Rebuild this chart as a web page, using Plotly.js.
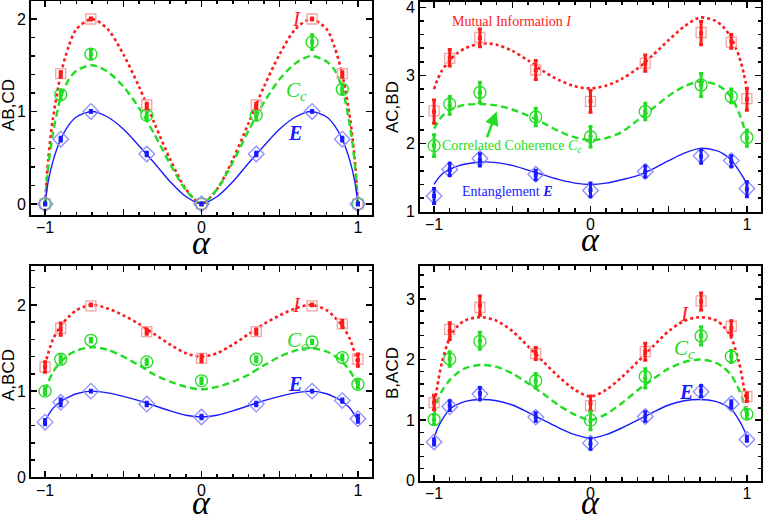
<!DOCTYPE html>
<html>
<head>
<meta charset="utf-8">
<script src="https://cdn.plot.ly/plotly-3.0.1.min.js"></script>
<style>
  html, body { margin: 0; padding: 0; background: #fff; }
</style>
</head>
<body>
<div id="chart" style="width:763px;height:522px"></div>
<script>
// measured alpha values and the grid the theory curves were read on
const alphaPts = [-1, -0.9, -0.707, -0.35, 0, 0.35, 0.707, 0.9, 1];
const curveX = [-1, -0.98, -0.95, -0.9, -0.85, -0.8, -0.7, -0.6, -0.5, -0.4, -0.3, -0.2, -0.1, 0,
  0.1, 0.2, 0.3, 0.4, 0.5, 0.6, 0.7, 0.8, 0.85, 0.9, 0.95, 0.98, 1];

// AB,CD
const abSimI = [0, 1.41, 2.0, 1.07, 0, 1.07, 2.0, 1.41, 0];
const abExpI = [0, 1.40, 2.0, 1.06, 0, 1.06, 2.0, 1.40, 0];
const abErrI = [0.01, 0.03, 0.01, 0.03, 0.01, 0.03, 0.01, 0.03, 0.01];
const abSimC = [0, 1.18, 1.62, 0.96, 0, 0.96, 1.75, 1.24, 0];
const abExpC = [0, 1.18, 1.62, 0.95, 0, 0.95, 1.75, 1.24, 0];
const abErrC = [0.01, 0.05, 0.05, 0.04, 0.01, 0.04, 0.08, 0.05, 0.01];
const abSimE = [0, 0.70, 1.0, 0.54, 0, 0.54, 1.0, 0.70, 0];
const abExpE = [0, 0.70, 1.0, 0.54, 0, 0.54, 1.0, 0.70, 0];
const abErrE = [0.01, 0.02, 0.01, 0.02, 0.01, 0.02, 0.01, 0.02, 0.01];
const abCurveI = [0, 0.48, 0.92, 1.40, 1.70, 1.89, 2.0, 1.89, 1.62, 1.27, 0.87, 0.48, 0.16, 0,
  0.16, 0.48, 0.87, 1.27, 1.62, 1.89, 2.0, 1.89, 1.70, 1.40, 0.92, 0.48, 0];
const abCurveC = [0, 0.40, 0.76, 1.15, 1.34, 1.44, 1.50, 1.43, 1.27, 1.04, 0.75, 0.43, 0.15, 0,
  0.16, 0.45, 0.79, 1.10, 1.35, 1.52, 1.60, 1.54, 1.45, 1.25, 0.83, 0.44, 0];
const abCurveE = [0, 0.24, 0.46, 0.70, 0.85, 0.94, 1.0, 0.94, 0.81, 0.63, 0.44, 0.24, 0.08, 0,
  0.08, 0.24, 0.44, 0.63, 0.81, 0.94, 1.0, 0.94, 0.85, 0.70, 0.46, 0.24, 0];

// AC,BD
const acSimI = [2.48, 3.25, 3.56, 3.08, 2.62, 3.18, 3.63, 3.49, 2.66];
const acExpI = [2.47, 3.26, 3.55, 3.08, 2.62, 3.18, 3.62, 3.50, 2.65];
const acErrI = [0.17, 0.12, 0.13, 0.14, 0.16, 0.12, 0.17, 0.10, 0.16];
const acSimC = [1.97, 2.58, 2.75, 2.39, 2.10, 2.47, 2.86, 2.69, 2.09];
const acExpC = [1.97, 2.56, 2.75, 2.39, 2.10, 2.47, 2.86, 2.70, 2.08];
const acErrC = [0.16, 0.13, 0.15, 0.13, 0.15, 0.12, 0.17, 0.10, 0.12];
const acSimE = [1.23, 1.62, 1.78, 1.55, 1.31, 1.59, 1.82, 1.75, 1.34];
const acExpE = [1.23, 1.62, 1.76, 1.54, 1.32, 1.59, 1.81, 1.74, 1.33];
const acErrE = [0.11, 0.09, 0.09, 0.07, 0.10, 0.08, 0.10, 0.08, 0.11];
const acCurveI = [2.80, 2.93, 3.07, 3.22, 3.33, 3.40, 3.47, 3.45, 3.36, 3.22, 3.06, 2.93, 2.84, 2.81,
  2.85, 2.95, 3.10, 3.30, 3.52, 3.72, 3.85, 3.80, 3.71, 3.55, 3.28, 3.03, 2.80];
const acCurveC = [2.22, 2.30, 2.40, 2.49, 2.54, 2.57, 2.58, 2.56, 2.50, 2.41, 2.30, 2.18, 2.09, 2.05,
  2.08, 2.17, 2.34, 2.52, 2.70, 2.84, 2.91, 2.87, 2.80, 2.68, 2.45, 2.25, 2.12];
const acCurveE = [1.40, 1.47, 1.55, 1.62, 1.67, 1.70, 1.73, 1.72, 1.68, 1.61, 1.54, 1.47, 1.42, 1.40,
  1.42, 1.47, 1.53, 1.63, 1.75, 1.86, 1.93, 1.90, 1.85, 1.76, 1.60, 1.49, 1.40];

// A,BCD
const aSimI = [1.28, 1.73, 1.99, 1.69, 1.38, 1.69, 1.99, 1.78, 1.37];
const aExpI = [1.28, 1.72, 2.0, 1.69, 1.38, 1.69, 2.0, 1.78, 1.36];
const aErrI = [0.06, 0.07, 0.01, 0.03, 0.04, 0.03, 0.01, 0.04, 0.07];
const aSimC = [1.0, 1.37, 1.59, 1.34, 1.12, 1.37, 1.57, 1.39, 1.08];
const aExpC = [1.0, 1.37, 1.59, 1.34, 1.12, 1.37, 1.57, 1.39, 1.08];
const aErrC = [0.04, 0.04, 0.02, 0.03, 0.03, 0.03, 0.02, 0.03, 0.04];
const aSimE = [0.64, 0.87, 1.0, 0.85, 0.70, 0.85, 1.0, 0.89, 0.68];
const aExpE = [0.64, 0.87, 1.0, 0.85, 0.70, 0.85, 1.0, 0.89, 0.68];
const aErrE = [0.03, 0.04, 0.01, 0.02, 0.02, 0.02, 0.01, 0.02, 0.04];
const aCurveI = [1.30, 1.44, 1.60, 1.76, 1.86, 1.94, 2.0, 1.96, 1.88, 1.78, 1.66, 1.54, 1.44, 1.40,
  1.44, 1.54, 1.66, 1.78, 1.88, 1.96, 2.0, 1.94, 1.86, 1.76, 1.60, 1.44, 1.30];
const aCurveC = [1.00, 1.10, 1.22, 1.34, 1.42, 1.47, 1.51, 1.48, 1.40, 1.30, 1.19, 1.11, 1.05, 1.02,
  1.05, 1.11, 1.19, 1.30, 1.40, 1.47, 1.50, 1.46, 1.41, 1.34, 1.23, 1.14, 1.07];
const aCurveE = [0.65, 0.72, 0.80, 0.88, 0.93, 0.97, 1.0, 0.98, 0.94, 0.89, 0.83, 0.77, 0.72, 0.70,
  0.72, 0.77, 0.83, 0.89, 0.94, 0.98, 1.0, 0.97, 0.93, 0.88, 0.80, 0.72, 0.67];

// B,ACD
const bSimI = [1.29, 2.50, 2.86, 2.10, 1.24, 2.13, 2.97, 2.55, 1.39];
const bExpI = [1.29, 2.47, 2.89, 2.10, 1.28, 2.13, 2.96, 2.52, 1.38];
const bErrI = [0.12, 0.14, 0.16, 0.10, 0.12, 0.14, 0.14, 0.12, 0.07];
const bSimC = [1.01, 2.01, 2.30, 1.65, 1.0, 1.72, 2.39, 2.05, 1.10];
const bExpC = [1.01, 2.01, 2.31, 1.65, 0.99, 1.69, 2.39, 2.05, 1.10];
const bErrC = [0.08, 0.12, 0.14, 0.12, 0.15, 0.16, 0.15, 0.10, 0.07];
const bSimE = [0.64, 1.22, 1.43, 1.05, 0.62, 1.06, 1.47, 1.27, 0.68];
const bExpE = [0.64, 1.24, 1.44, 1.05, 0.61, 1.06, 1.48, 1.26, 0.69];
const bErrE = [0.05, 0.08, 0.10, 0.07, 0.09, 0.08, 0.09, 0.06, 0.04];
const bCurveI = [1.20, 1.55, 1.95, 2.36, 2.55, 2.65, 2.70, 2.64, 2.47, 2.22, 1.96, 1.71, 1.50, 1.39,
  1.50, 1.71, 1.96, 2.22, 2.47, 2.64, 2.70, 2.65, 2.55, 2.36, 1.95, 1.55, 1.22];
const bCurveC = [1.10, 1.30, 1.48, 1.66, 1.78, 1.86, 1.91, 1.88, 1.77, 1.61, 1.43, 1.24, 1.09, 1.00,
  1.10, 1.28, 1.49, 1.68, 1.85, 1.96, 2.00, 1.95, 1.87, 1.74, 1.50, 1.28, 1.05];
const bCurveE = [0.70, 0.85, 1.00, 1.18, 1.26, 1.31, 1.34, 1.32, 1.25, 1.13, 1.00, 0.87, 0.76, 0.70,
  0.76, 0.87, 1.00, 1.13, 1.25, 1.32, 1.34, 1.31, 1.26, 1.18, 1.00, 0.85, 0.73];

const RED = "#ff1a1a";
const RED_LIGHT = "#f5a3a3";
const GREEN = "#22dd22";
const BLUE = "#1a1aff";
const BLUE_LIGHT = "#8c8cff";
const SANS = "Liberation Sans, Arial, sans-serif";
const SERIF = "Liberation Serif, Times New Roman, serif";

const W = 763, H = 522;
const px = (v) => v / W;
const py = (v) => 1 - v / H;

const series = [
  { color: RED, light: RED_LIGHT, dash: "dot", width: 2.6, symbol: "square-open", size: 10 },
  { color: GREEN, light: GREEN, dash: "7px,4px", width: 2.4, symbol: "circle-open", size: 12 },
  { color: BLUE, light: BLUE_LIGHT, dash: "solid", width: 1.4, symbol: "diamond-open", size: 12 },
];

const panels = [
  { xa: "x", ya: "y", curves: [abCurveI, abCurveC, abCurveE], sims: [abSimI, abSimC, abSimE],
    exps: [abExpI, abExpC, abExpE], errs: [abErrI, abErrC, abErrE] },
  { xa: "x2", ya: "y2", curves: [acCurveI, acCurveC, acCurveE], sims: [acSimI, acSimC, acSimE],
    exps: [acExpI, acExpC, acExpE], errs: [acErrI, acErrC, acErrE] },
  { xa: "x3", ya: "y3", curves: [aCurveI, aCurveC, aCurveE], sims: [aSimI, aSimC, aSimE],
    exps: [aExpI, aExpC, aExpE], errs: [aErrI, aErrC, aErrE] },
  { xa: "x4", ya: "y4", curves: [bCurveI, bCurveC, bCurveE], sims: [bSimI, bSimC, bSimE],
    exps: [bExpI, bExpC, bExpE], errs: [bErrI, bErrC, bErrE] },
];

const traces = [];
for (const p of panels) {
  series.forEach((s, i) => {
    traces.push({
      x: curveX, y: p.curves[i], xaxis: p.xa, yaxis: p.ya, type: "scatter", mode: "lines",
      line: { color: s.color, dash: s.dash, width: s.width, shape: "spline", smoothing: 0.8 },
      hoverinfo: "skip", showlegend: false,
    });
  });
  series.forEach((s, i) => {
    traces.push({
      x: alphaPts, y: p.sims[i], xaxis: p.xa, yaxis: p.ya, type: "scatter", mode: "markers",
      marker: { symbol: s.symbol, size: s.size, color: s.light, line: { width: 1.3 } },
      showlegend: false, cliponaxis: false,
    });
  });
  series.forEach((s, i) => {
    traces.push({
      x: alphaPts, y: p.exps[i], xaxis: p.xa, yaxis: p.ya, type: "scatter", mode: "markers",
      marker: { symbol: "square", size: 4, color: s.color },
      error_y: { type: "data", array: p.errs[i], visible: true, color: s.color, thickness: 3, width: 2 },
      showlegend: false, cliponaxis: false,
    });
  });
}

const tickFont = { family: SANS, size: 16, color: "#000" };

function xAxis(left, right, anchor) {
  return {
    domain: [px(left), px(right)], anchor: anchor, range: [-1.09, 1.09],
    tickvals: [-1, -0.5, 0, 0.5, 1], ticktext: ["\u22121", "", "0", "", "1"],
    ticks: "inside", ticklen: 6, tickwidth: 1.5, tickcolor: "#000", ticklabelstandoff: -3,
    minor: { tick0: 0, dtick: 0.1, ticks: "inside", ticklen: 3.5, tickwidth: 1.5, tickcolor: "#000" },
    showline: true, linewidth: 2, linecolor: "#000", mirror: "allticks",
    showgrid: false, zeroline: false, tickfont: tickFont, ticklabeloverflow: "allow", fixedrange: true,
  };
}

function yAxis(top, bottom, range, vals, anchor) {
  return {
    domain: [py(bottom), py(top)], anchor: anchor, range: range,
    tickvals: vals, ticktext: vals.map(String),
    ticks: "inside", ticklen: 6, tickwidth: 1.5, tickcolor: "#000",
    minor: { tick0: 0, dtick: 0.2, ticks: "inside", ticklen: 3.5, tickwidth: 1.5, tickcolor: "#000" },
    showline: true, linewidth: 2, linecolor: "#000", mirror: "allticks",
    showgrid: false, zeroline: false, tickfont: tickFont, ticklabeloverflow: "allow", fixedrange: true,
  };
}

function label(xref, yref, x, y, text, color, size, family) {
  return { xref: xref, yref: yref, x: x, y: y, text: text, showarrow: false,
    xanchor: "center", yanchor: "middle", font: { family: family || SERIF, size: size, color: color } };
}

const annotations = [
  // curve labels, AB,CD
  label("x", "y", 0.61, 1.995, "<i>I</i>", RED, 21),
  label("x", "y", 0.61, 1.22, "<i>C<sub>c</sub></i>", GREEN, 21),
  label("x", "y", 0.60, 0.77, "<b><i>E</i></b>", BLUE, 20),
  // AC,BD
  label("x2", "y2", -0.5, 3.79, "Mutual Information <i>I</i>", RED, 14),
  label("x2", "y2", -0.5, 1.95, "Correlated Coherence <i>C<sub>c</sub></i>", GREEN, 14),
  label("x2", "y2", -0.53, 1.29, "Entanglement <b><i>E</i></b>", BLUE, 14),
  { xref: "x2", yref: "y2", axref: "x2", ayref: "y2", x: -0.6, y: 2.47, ax: -0.665, ay: 2.07,
    text: "", showarrow: true, arrowhead: 2, arrowsize: 1.1, arrowwidth: 2.5, arrowcolor: GREEN },
  // A,BCD
  label("x3", "y3", 0.61, 2.0, "<i>I</i>", RED, 21),
  label("x3", "y3", 0.615, 1.58, "<i>C<sub>c</sub></i>", GREEN, 21),
  label("x3", "y3", 0.60, 1.08, "<b><i>E</i></b>", BLUE, 20),
  // B,ACD
  label("x4", "y4", 0.60, 2.75, "<i>I</i>", RED, 21),
  label("x4", "y4", 0.60, 2.18, "<i>C<sub>c</sub></i>", GREEN, 21),
  label("x4", "y4", 0.61, 1.46, "<b><i>E</i></b>", BLUE, 20),
];

// axis titles: alpha under each frame, pair names at the left
const alphaTitles = [[201, 242], [590, 239], [201, 502], [590, 502]];
for (const [cx, cy] of alphaTitles) {
  annotations.push(label("paper", "paper", px(cx), py(cy), "<i>\u03b1</i>", "#000", 34));
}
const yTitles = [["AB,CD", 8, 105], ["AC,BD", 393, 107], ["A,BCD", 8, 375], ["B,ACD", 392, 373]];
for (const [t, cx, cy] of yTitles) {
  const a = label("paper", "paper", px(cx), py(cy), t, "#000", 17, SANS);
  a.textangle = -90;
  annotations.push(a);
}

const layout = {
  width: W, height: H,
  margin: { l: 0, r: 0, t: 0, b: 0 },
  paper_bgcolor: "#fff", plot_bgcolor: "#fff",
  showlegend: false,
  xaxis: xAxis(31, 372, "y"),
  yaxis: yAxis(0.5, 215, [-0.12, 2.2], [0, 1, 2], "x"),
  xaxis2: xAxis(420, 761, "y2"),
  yaxis2: yAxis(1.85, 211.7, [1, 4.08], [1, 2, 3, 4], "x2"),
  xaxis3: xAxis(31, 372, "y3"),
  yaxis3: yAxis(266.2, 477.3, [0, 2.45], [0, 1, 2], "x3"),
  xaxis4: xAxis(420, 761, "y4"),
  yaxis4: yAxis(266.3, 480.7, [0, 3.54], [0, 1, 2, 3], "x4"),
  annotations: annotations,
};

Plotly.newPlot("chart", traces, layout, { displayModeBar: false, staticPlot: true });
</script>
</body>
</html>
